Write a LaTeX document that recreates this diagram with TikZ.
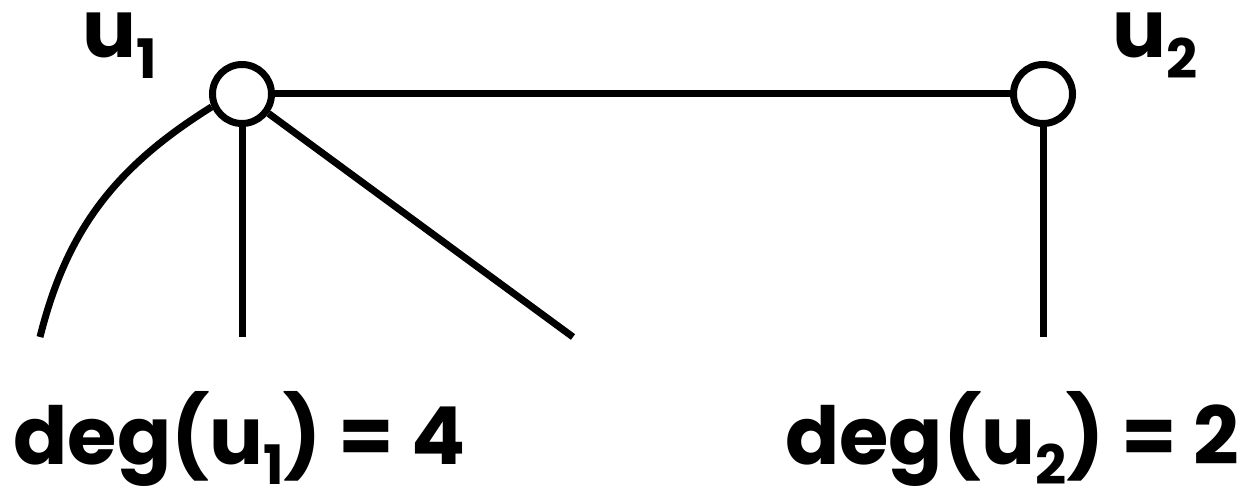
\documentclass[tikz,border=0pt]{standalone}
\usepackage{fontspec}
\usepackage{graphicx}
\setmainfont{Poppins}
\newcommand\lowsub[1]{\raisebox{-0.26em}{\scalebox{0.68}{#1}}}
\tikzset{
  vert/.style={circle,draw,line width=3.5pt,minimum size=29.5pt,inner sep=0pt,fill=white},
  edge/.style={line width=3.5pt,line cap=butt},
  lbl/.style={inner sep=0pt,font=\bfseries\fontsize{40}{48}\selectfont},
  big/.style={inner sep=0pt,font=\bfseries\fontsize{40}{48}\selectfont}
}
\begin{document}
\begin{tikzpicture}[x=0.5pt,y=-0.5pt]
\useasboundingbox (0,0) rectangle (1245,496);
\node[vert] (u1) at (242,94) {};
\node[vert] (u2) at (1043,94) {};
\coordinate (a1) at (40,337);
\coordinate (a2) at (242,337);
\coordinate (a3) at (573,337);
\coordinate (b1) at (1043,337);
\draw[edge] (u1) -- (u2);
\draw[edge] (u1) -- (a2);
\draw[edge] (u1) -- (a3);
\draw[edge] (u2) -- (b1);
\draw[edge] (u1.203) to[out=212,in=76] (a1);
\node[lbl,anchor=base west] (l1) at (82,58) {u\lowsub{1}};
\node[lbl,anchor=base west] (l2) at (1112,58) {u\lowsub{2}};
\node[big,anchor=base west] (d1) at (13,464) {deg(u\lowsub{1}) = 4};
\node[big,anchor=base east] (d2) at (1240,464) {deg(u\lowsub{2}) = 2};
\end{tikzpicture}
\end{document}
